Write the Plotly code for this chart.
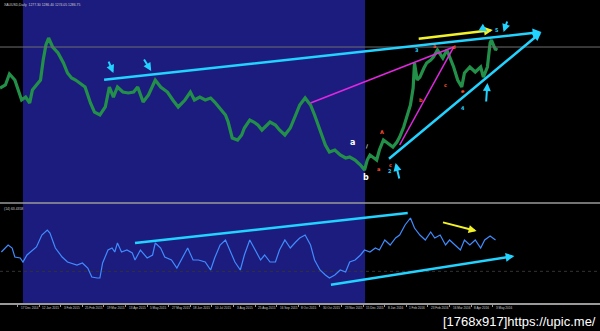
import plotly.graph_objects as go

# ---------------- data ----------------
price_bar = [0, 4, 7, 11, 13, 16, 19, 22, 24, 27, 30, 32, 34, 36, 38, 39, 43, 47, 50, 53, 56, 59, 63, 67, 70, 74,
             78, 81, 84, 87, 91, 95, 99, 102, 106, 110, 115, 119, 124, 128, 132, 137, 141, 144, 148, 152, 156, 159,
             163, 167, 169, 172, 176, 179, 181, 185, 188, 191, 194, 197, 200, 204, 207, 211, 215, 219, 222, 226, 230,
             233, 237, 241, 244, 248, 252, 256, 259, 263, 267, 270, 272, 274, 277, 279, 281, 284, 287, 289, 291, 294,
             296, 299, 301, 304, 306, 307, 309, 311, 314, 316, 319, 321, 324, 328, 331, 333, 336, 339, 342, 344, 348,
             352, 356, 358, 361, 363, 364, 367, 368]
price_close = [1208.0, 1213.9, 1235.7, 1223.8, 1208.0, 1184.2, 1190.1, 1178.3, 1204.0, 1213.9, 1223.8, 1263.4,
               1293.1, 1307.0, 1295.1, 1289.1, 1277.3, 1257.5, 1237.7, 1227.8, 1223.8, 1217.9, 1210.0, 1178.3,
               1160.4, 1154.5, 1170.4, 1210.0, 1190.1, 1210.0, 1200.0, 1198.1, 1200.0, 1210.0, 1180.2, 1194.1,
               1223.8, 1210.0, 1200.0, 1184.2, 1170.4, 1184.2, 1200.0, 1184.2, 1190.1, 1184.2, 1188.2, 1180.2,
               1168.4, 1154.5, 1140.6, 1109.0, 1105.0, 1114.9, 1128.8, 1144.6, 1140.6, 1134.7, 1124.8, 1132.7,
               1140.6, 1134.7, 1124.8, 1114.9, 1128.8, 1154.5, 1174.3, 1188.2, 1174.3, 1154.5, 1124.8, 1095.1,
               1081.2, 1085.2, 1075.3, 1069.4, 1071.3, 1065.4, 1055.5, 1045.6, 1065.4, 1075.3, 1069.4, 1065.4,
               1085.2, 1105.0, 1099.1, 1095.1, 1091.1, 1101.0, 1110.9, 1130.7, 1150.5, 1174.3, 1208.0, 1257.5,
               1223.8, 1229.7, 1247.6, 1257.5, 1263.4, 1269.3, 1283.2, 1267.4, 1283.2, 1269.3, 1249.5, 1223.8,
               1210.0, 1237.7, 1249.5, 1239.6, 1249.5, 1229.7, 1249.5, 1297.1, 1303.0, 1283.2, 1287.2]

osc_bar = [1, 6, 9, 11, 15, 17, 20, 24, 27, 31, 35, 37, 41, 46, 50, 57, 61, 65, 68, 72, 74, 76, 80, 83, 85, 87, 90,
           94, 98, 100, 104, 109, 113, 115, 119, 122, 127, 131, 135, 139, 143, 147, 152, 156, 159, 163, 167, 170,
           174, 178, 181, 185, 189, 193, 196, 200, 204, 207, 211, 215, 219, 222, 226, 230, 233, 237, 241, 244, 248,
           252, 256, 259, 263, 267, 270, 274, 278, 281, 285, 289, 293, 296, 300, 304, 307, 311, 315, 319, 322, 326,
           330, 333, 337, 341, 344, 348, 352, 356, 359, 363, 367]
osc_value = [44.5, 49.75, 47.5, 40.75, 40.0, 37.0, 42.25, 46.0, 48.25, 57.25, 61.0, 58.75, 47.5, 40.75, 37.0, 34.75,
             36.25, 32.5, 25.75, 25.0, 25.0, 36.25, 46.0, 47.5, 44.5, 51.25, 44.5, 46.0, 43.75, 38.5, 46.0, 40.0,
             42.25, 51.25, 47.5, 40.75, 38.5, 32.5, 40.0, 47.5, 38.5, 38.5, 37.0, 31.0, 40.0, 49.75, 53.5, 46.0,
             37.0, 31.0, 42.25, 53.5, 46.0, 38.5, 42.25, 37.0, 37.0, 46.0, 53.5, 47.5, 52.0, 55.0, 57.25, 49.75,
             38.5, 31.0, 27.25, 25.0, 27.25, 31.0, 29.5, 37.0, 38.5, 42.25, 46.0, 44.5, 47.5, 46.0, 53.5, 49.75,
             55.0, 57.25, 64.75, 70.0, 62.5, 57.25, 53.5, 59.5, 55.0, 57.25, 49.75, 53.5, 49.75, 46.0, 53.5, 49.75,
             53.5, 47.5, 53.5, 56.5, 53.5]

tick_bar = [-3, 13, 29, 45, 61, 77, 93, 109, 125, 141, 157, 173, 189, 205, 221, 237, 253, 269, 285, 301, 317, 333,
            349, 365]
tick_text = ["25 Nov 2014", "17 Dec 2014", "12 Jan 2015", "3 Feb 2015", "25 Feb 2015", "19 Mar 2015", "13 Apr 2015",
             "5 May 2015", "27 May 2015", "18 Jun 2015", "10 Jul 2015", "3 Aug 2015", "25 Aug 2015", "16 Sep 2015",
             "8 Oct 2015", "30 Oct 2015", "23 Nov 2015", "15 Dec 2015", "8 Jan 2016", "1 Feb 2016", "23 Feb 2016",
             "16 Mar 2016", "8 Apr 2016", "3 May 2016"]

hline_price = 1289.1
osc_levels = [30]

# trend lines: (bar0, v0, bar1, v1)
cyan_top_arrows = [(76, 1223.8, 401, 1318.8), (287, 1065.4, 401, 1318.8)]
magenta_lines = [(230, 1178.3, 336, 1289.1), (296, 1095.1, 336, 1289.1)]
yellow_top_arrow = (309, 1305.0, 365, 1322.8)
cyan_small_arrows = [(80, 1263.4, 84, 1237.7), (106, 1267.4, 112, 1241.6), (296, 1025.8, 293, 1059.5),
                     (360, 1178.3, 361, 1217.9), (376, 1342.6, 373, 1318.8), (356, 1328.7, 361, 1320.0)]
osc_cyan_line = (100, 51.25, 302, 73.75)
osc_cyan_arrow = (244, 19.75, 381, 41.5)
osc_yellow_arrow = (327, 67.0, 353, 60.25)

wave_labels = [("a", 261, 1101, "#ffffff", 8), ("b", 271, 1030, "#ffffff", 8), ("/", 272, 1093, "#ffffff", 5),
               ("A", 283, 1121, "#ff5030", 5), ("a", 280, 1048, "#ff5030", 5), ("c", 289, 1056, "#ff5030", 5),
               ("2", 289, 1043, "#22d3ff", 5), ("3", 309, 1283, "#22d3ff", 5), ("a", 322, 1291, "#ff5030", 5),
               ("d", 336, 1289, "#ff5030", 5), ("b", 312, 1184, "#ff5030", 5), ("c", 330, 1214, "#ff5030", 5),
               ("e", 343, 1202, "#ff5030", 5), ("4", 343, 1168, "#22d3ff", 5), ("5", 368, 1323, "#22d3ff", 5)]

# ---------------- figure ----------------
W, H = 600, 331
CYAN, MAG, YEL = "#22d3ff", "#e028e0", "#f2f22a"

fig = go.Figure()
fig.add_trace(go.Scatter(x=price_bar, y=price_close, mode="lines",
                         line=dict(color="#23904a", width=3.2), xaxis="x", yaxis="y", hoverinfo="skip"))
fig.add_trace(go.Scatter(x=osc_bar, y=osc_value, mode="lines",
                         line=dict(color="#3f8cff", width=1.2), xaxis="x", yaxis="y2", hoverinfo="skip"))

def py(px):  # pixel row -> paper y
    return (H - px) / H

shapes = []
shapes.append(dict(type="rect", xref="x", yref="paper", x0=17, x1=270.4, y0=py(303), y1=1,
                   fillcolor="#1c1c7e", line=dict(width=0), layer="below"))
shapes.append(dict(type="line", xref="paper", yref="paper", x0=0, x1=1, y0=py(203), y1=py(203),
                   line=dict(color="#9a9a9a", width=1.5)))
shapes.append(dict(type="line", xref="paper", yref="y", x0=0, x1=1, y0=hline_price, y1=hline_price,
                   line=dict(color="#6e6e6e", width=1)))
for lv in osc_levels:
    shapes.append(dict(type="line", xref="paper", yref="y2", x0=0, x1=1, y0=lv, y1=lv,
                       line=dict(color="#333333", width=1, dash="dot"), layer="below"))
for (b0, v0, b1, v1) in magenta_lines:
    shapes.append(dict(type="line", xref="x", yref="y", x0=b0, y0=v0, x1=b1, y1=v1,
                       line=dict(color=MAG, width=1.5)))
b0, v0, b1, v1 = osc_cyan_line
shapes.append(dict(type="line", xref="x", yref="y2", x0=b0, y0=v0, x1=b1, y1=v1,
                   line=dict(color=CYAN, width=2.5)))

ann = []
def arrow(t, yr, color, width, head=2, size=1.0):
    b0, v0, b1, v1 = t
    ann.append(dict(x=b1, y=v1, ax=b0, ay=v0, xref="x", yref=yr, axref="x", ayref=yr, text="",
                    showarrow=True, arrowhead=head, arrowsize=size, arrowwidth=width, arrowcolor=color))

for t in cyan_top_arrows:
    arrow(t, "y", CYAN, 2.5, 2, 0.7)
arrow(yellow_top_arrow, "y", YEL, 2.5, 2, 0.7)
for t in cyan_small_arrows:
    arrow(t, "y", CYAN, 2, 2, 0.8)
arrow(osc_cyan_arrow, "y2", CYAN, 2.5, 2, 0.7)
arrow(osc_yellow_arrow, "y2", YEL, 2, 2, 0.8)

for (txt, b, v, c, s) in wave_labels:
    ann.append(dict(x=b, y=v, xref="x", yref="y", text=txt, showarrow=False,
                    font=dict(color=c, size=s, family="DejaVu Sans", weight="bold")))

for b, t in zip(tick_bar, tick_text):
    ann.append(dict(x=b, y=py(304), xref="x", yref="paper", text=t, showarrow=False, xanchor="left",
                    yanchor="top", xshift=1, font=dict(color="#d0d0d0", size=3.1, family="Liberation Sans")))

ann.append(dict(x=2 / W, y=py(1), xref="paper", yref="paper", text="XAUUSD,Daily  1277.30 1286.40 1274.05 1286.75",
                showarrow=False, xanchor="left", yanchor="top",
                font=dict(color="#d0d0d0", size=3.4, family="Liberation Sans")))
ann.append(dict(x=2 / W, y=py(205), xref="paper", yref="paper", text="(14) 63.4358",
                showarrow=False, xanchor="left", yanchor="top",
                font=dict(color="#d0d0d0", size=3.4, family="Liberation Sans")))
ann.append(dict(x=598 / W, y=py(321), xref="paper", yref="paper", text="[1768x917]https://upic.me/",
                showarrow=False, xanchor="right", yanchor="middle",
                font=dict(color="#ffffff", size=13, family="Liberation Sans")))

fig.update_layout(
    width=W, height=H, margin=dict(l=0, r=0, t=0, b=0),
    paper_bgcolor="#000000", plot_bgcolor="#000000", showlegend=False,
    shapes=shapes, annotations=ann,
    xaxis=dict(domain=[0, 1], range=[0, 444.4], anchor="y2", showgrid=False, zeroline=False,
               showline=True, linecolor="#9a9a9a", linewidth=1.5, ticks="outside", ticklen=2,
               tickcolor="#9a9a9a", tickvals=tick_bar, showticklabels=False, fixedrange=True),
    yaxis=dict(domain=[py(203), 1], range=[980.3, 1382.2], showgrid=False, zeroline=False,
               showticklabels=False, anchor="x"),
    yaxis2=dict(domain=[py(303), py(203)], range=[6.25, 81.25], showgrid=False, zeroline=False,
                showticklabels=False, anchor="x"),
)

fig.write_html("out.html")
